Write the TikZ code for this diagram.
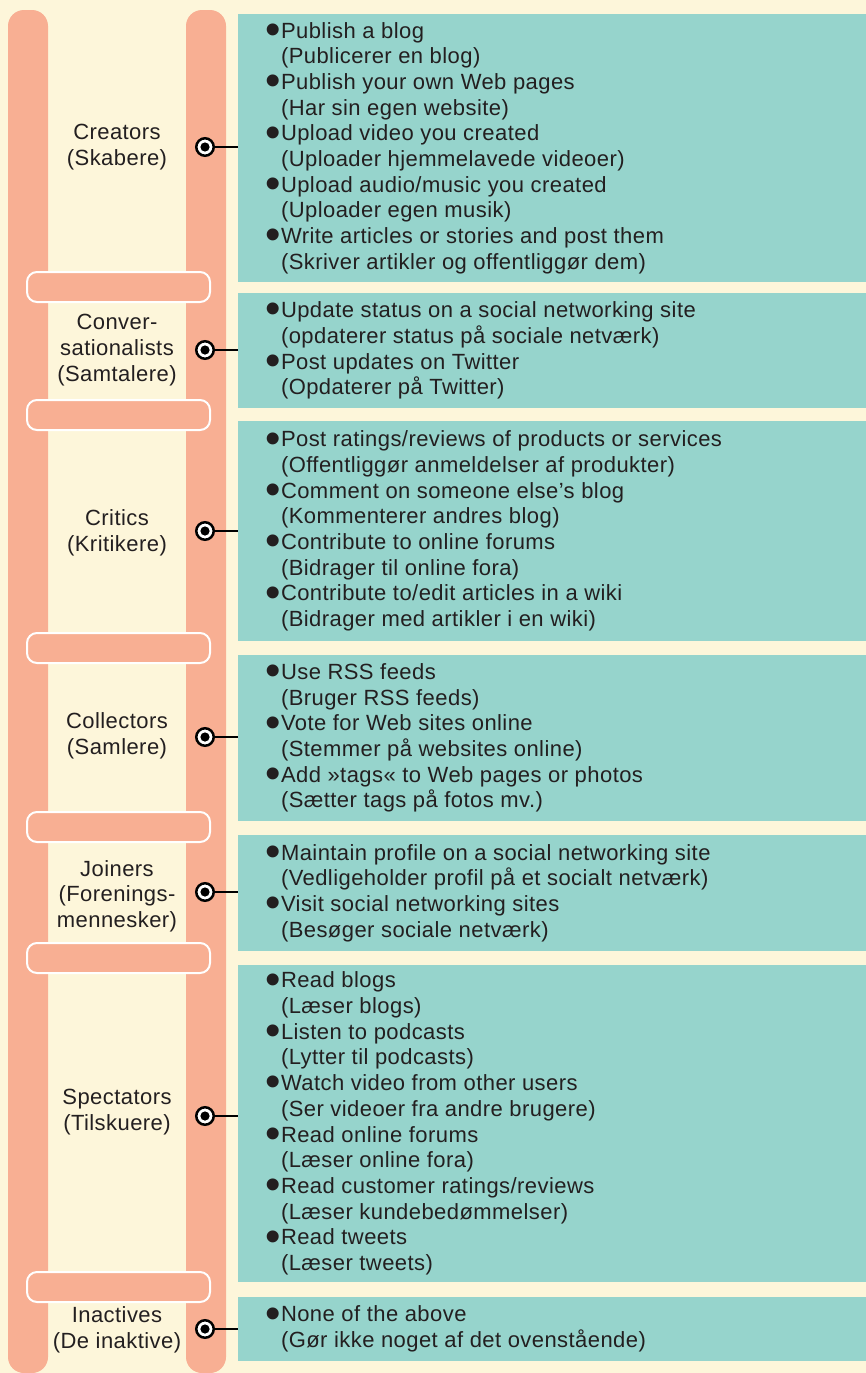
\documentclass[tikz,border=0pt]{standalone}
\usepackage{fontspec}
\setmainfont{Liberation Sans}[LetterSpace=2]
\usepackage{tikz}
\usetikzlibrary{positioning,calc}
\definecolor{creampaper}{HTML}{FDF6DA}
\definecolor{salmonrail}{HTML}{F8AF93}
\definecolor{tealbox}{HTML}{96D4CC}
\definecolor{inkgray}{HTML}{231F20}
\newcommand{\listfont}{\fontsize{22pt}{25.7pt}\selectfont}
\newcommand{\bigdot}{\hspace*{-2.5pt}\raisebox{-6.3pt}{\scalebox{2.0}{\textbullet}}}
\newcommand{\dotitem}[2]{\makebox[13pt][l]{\bigdot}#1\\\hspace*{13pt}#2}

\begin{document}
\begin{tikzpicture}[
      x=1pt, y=-1pt,
      rail/.style={fill=salmonrail, rounded corners=16pt},
      rung/.style={fill=salmonrail, draw=white, line width=2pt, rounded corners=10pt},
      tealpanel/.style={rectangle, fill=tealbox, minimum width=628pt, inner sep=0pt},
      itemlist/.style={align=left, inner sep=0pt, anchor=west, text=inkgray, font=\listfont},
      rolename/.style={align=center, inner sep=0pt, text=inkgray, font=\listfont},
      hook/.style={circle, draw=black, fill=white, line width=2.5pt, minimum size=17.5pt,
        inner sep=0pt, path picture={\fill[black] (path picture bounding box.center) circle (4.6pt);}},
      link/.style={draw=black, line width=2pt},
  ]

      % Baggrund
      \fill[creampaper] (0,0) rectangle (866,1373);
      \useasboundingbox (0,0) rectangle (866,1373);

      % Stigen
      \foreach \xa/\xb in {8/48,186/226}
          \fill[rail] (\xa,10) rectangle (\xb,1373);
      \foreach \ry in {272,400,633,812,943,1272}
          \draw[rung] (27,\ry) rectangle (210,{\ry+30});

      % Felter
      \node[tealpanel, minimum height=268pt] (creatorsbox) at (552,148) {};
      \node[tealpanel, minimum height=115pt] (convbox) at (552,350.5) {};
      \node[tealpanel, minimum height=220pt] (criticsbox) at (552,531) {};
      \node[tealpanel, minimum height=166pt] (collectorsbox) at (552,738) {};
      \node[tealpanel, minimum height=116pt] (joinersbox) at (552,893) {};
      \node[tealpanel, minimum height=317pt] (spectatorsbox) at (552,1123.5) {};
      \node[tealpanel, minimum height=64pt] (inactivesbox) at (552,1329) {};

      % Aktiviteter
      \node[itemlist] (creatorslist) at ([xshift=30pt]creatorsbox.west) {%
        \dotitem{Publish a blog}{(Publicerer en blog)}\\
        \dotitem{Publish your own Web pages}{(Har sin egen website)}\\
        \dotitem{Upload video you created}{(Uploader hjemmelavede videoer)}\\
        \dotitem{Upload audio/music you created}{(Uploader egen musik)}\\
        \dotitem{Write articles or stories and post them}{(Skriver artikler og offentliggør dem)}};
      \node[itemlist] (convlist) at ([xshift=30pt]convbox.west) {%
        \dotitem{Update status on a social networking site}{(opdaterer status på sociale netværk)}\\
        \dotitem{Post updates on Twitter}{(Opdaterer på Twitter)}};
      \node[itemlist] (criticslist) at ([xshift=30pt]criticsbox.west) {%
        \dotitem{Post ratings/reviews of products or services}{(Offentliggør anmeldelser af produkter)}\\
        \dotitem{Comment on someone else’s blog}{(Kommenterer andres blog)}\\
        \dotitem{Contribute to online forums}{(Bidrager til online fora)}\\
        \dotitem{Contribute to/edit articles in a wiki}{(Bidrager med artikler i en wiki)}};
      \node[itemlist] (collectorslist) at ([xshift=30pt]collectorsbox.west) {%
        \dotitem{Use RSS feeds}{(Bruger RSS feeds)}\\
        \dotitem{Vote for Web sites online}{(Stemmer på websites online)}\\
        \dotitem{Add »tags« to Web pages or photos}{(Sætter tags på fotos mv.)}};
      \node[itemlist] (joinerslist) at ([xshift=30pt]joinersbox.west) {%
        \dotitem{Maintain profile on a social networking site}{(Vedligeholder profil på et socialt netværk)}\\
        \dotitem{Visit social networking sites}{(Besøger sociale netværk)}};
      \node[itemlist] (spectatorslist) at ([xshift=30pt]spectatorsbox.west) {%
        \dotitem{Read blogs}{(Læser blogs)}\\
        \dotitem{Listen to podcasts}{(Lytter til podcasts)}\\
        \dotitem{Watch video from other users}{(Ser videoer fra andre brugere)}\\
        \dotitem{Read online forums}{(Læser online fora)}\\
        \dotitem{Read customer ratings/reviews}{(Læser kundebedømmelser)}\\
        \dotitem{Read tweets}{(Læser tweets)}};
      \node[itemlist] (inactiveslist) at ([xshift=30pt]inactivesbox.west) {%
        \dotitem{None of the above}{(Gør ikke noget af det ovenstående)}};

      % Roller
      \node[rolename] (creators) at (117,147) {Creators\\(Skabere)};
      \node[rolename] (conv) at (117,350) {Conver-\\sationalists\\(Samtalere)};
      \node[rolename] (critics) at (117,533) {Critics\\(Kritikere)};
      \node[rolename] (collectors) at (117,736) {Collectors\\(Samlere)};
      \node[rolename] (joiners) at (117,896) {Joiners\\(Forenings-\\mennesker)};
      \node[rolename] (spectators) at (117,1112) {Spectators\\(Tilskuere)};
      \node[rolename] (inactives) at (117,1330) {Inactives\\(De inaktive)};

      % Forbindelser
      \foreach \r/\hy in {creators/147,conv/350,critics/531,collectors/737,joiners/892,spectators/1116,inactives/1329} {
          \node[hook] (\r hook) at (205,\hy) {};
          \draw[link] (\r hook) -- (\r hook -| \r box.west);
      }

  \end{tikzpicture}
\end{document}
